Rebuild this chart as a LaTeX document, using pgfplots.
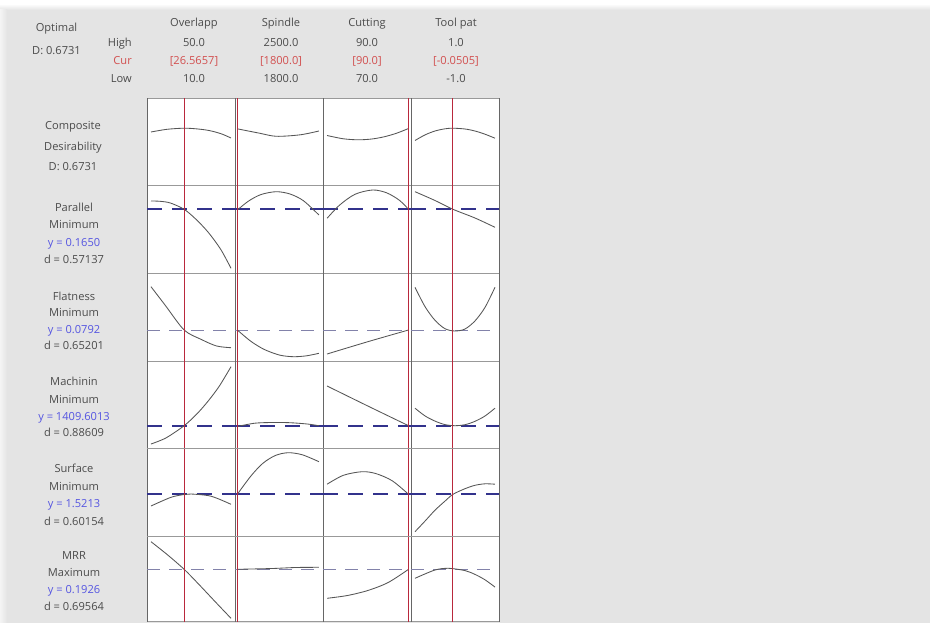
\documentclass[border=0pt]{standalone}
\usepackage{fontspec}
\setmainfont{Open Sans}
\usepackage{pgfplots}
\pgfplotsset{compat=1.18}
\definecolor{bg}{RGB}{228,228,228}
\definecolor{txt}{RGB}{75,75,75}
\definecolor{curred}{RGB}{210,80,80}
\definecolor{yblue}{RGB}{85,85,225}
\definecolor{refred}{RGB}{185,40,60}
\definecolor{dnavy}{RGB}{50,50,140}
\definecolor{thindash}{RGB}{130,130,170}
\definecolor{cgray}{RGB}{85,85,85}
\pgfplotsset{
  cell/.style={scale only axis, width=88pt, xtick=\empty, ytick=\empty, ymin=0,
    separate axis lines, x axis line style={draw=black!40}, y axis line style={draw=black!60},
    axis background/.style={fill=white}, anchor=north west},
  pos/.style 2 args={at={(#1pt,-#2pt)}},
  c1/.style={xmin=8,xmax=52},
  c2/.style={xmin=1780,xmax=2535},
  c3/.style={xmin=69,xmax=90.6},
  c4/.style={xmin=-1.1,xmax=1.1},
  r1/.style={ymax=87.5,height=87.5pt},
  r2/.style={ymax=87.5,height=87.5pt},
  r3/.style={ymax=88,height=88pt},
  r4/.style={ymax=87.5,height=87.5pt},
  r5/.style={ymax=88,height=88pt},
  r6/.style={ymax=85,height=85pt},
  crv/.style={color=cgray, line width=0.85pt, smooth, no marks},
  ref/.style={color=refred, line width=1pt, no marks},
  dsh/.style={color=dnavy, line width=1.8pt, dash pattern=on 15pt off 10pt, no marks},
  dthin/.style={color=thindash, line width=0.8pt, dash pattern=on 13pt off 9pt, no marks},
}
\tikzset{lab/.style={font=\fontsize{11.1}{12}\selectfont, text=txt, anchor=mid, inner sep=0pt}}
\begin{document}
\begin{tikzpicture}
\useasboundingbox (0,0) rectangle (930pt,-623pt);
\fill[white] (0,0) rectangle (930pt,-623pt);
\fill[bg] (0,-10pt) rectangle (930pt,-623pt);
\shade[top color=white, bottom color=bg] (0,-4pt) rectangle (930pt,-10pt);
\shade[left color=white!60!bg, right color=bg] (0,-10pt) rectangle (7pt,-623pt);

% ---------- header ----------
\node[lab] at (56.5pt,-29pt) {Optimal};
\node[lab] at (56.5pt,-52pt) {D: 0.6731};
\node[lab, anchor=mid east] at (132pt,-44pt) {High};
\node[lab, anchor=mid east, text=curred] at (132pt,-61.5pt) {Cur};
\node[lab, anchor=mid east] at (132pt,-80pt) {Low};
\node[lab] at (194pt,-24pt) {Overlapp};
\node[lab] at (281pt,-24pt) {Spindle};
\node[lab] at (367pt,-24pt) {Cutting};
\node[lab] at (456pt,-24pt) {Tool pat};
\node[lab] at (194pt,-43.5pt) {50.0};
\node[lab] at (281pt,-43.5pt) {2500.0};
\node[lab] at (367pt,-43.5pt) {90.0};
\node[lab] at (456pt,-43.5pt) {1.0};
\node[lab, text=curred] at (194pt,-61.5pt) {[26.5657]};
\node[lab, text=curred] at (281pt,-61.5pt) {[1800.0]};
\node[lab, text=curred] at (367pt,-61.5pt) {[90.0]};
\node[lab, text=curred] at (456pt,-61.5pt) {[-0.0505]};
\node[lab] at (194pt,-80pt) {10.0};
\node[lab] at (281pt,-80pt) {1800.0};
\node[lab] at (367pt,-80pt) {70.0};
\node[lab] at (456pt,-80pt) {-1.0};

% ---------- row labels ----------
\node[lab] at (73pt,-127pt) {Composite};
\node[lab] at (73pt,-147.5pt) {Desirability};
\node[lab] at (73pt,-168pt) {D: 0.6731};

\node[lab] at (74pt,-208.5pt) {Parallel};
\node[lab] at (74pt,-226pt) {Minimum};
\node[lab, text=yblue] at (74pt,-243.5pt) {y = 0.1650};
\node[lab] at (74pt,-261pt) {d = 0.57137};

\node[lab] at (74pt,-297.5pt) {Flatness};
\node[lab] at (74pt,-314pt) {Minimum};
\node[lab, text=yblue] at (74pt,-330.5pt) {y = 0.0792};
\node[lab] at (74pt,-347pt) {d = 0.65201};

\node[lab] at (74pt,-383pt) {Machinin};
\node[lab] at (74pt,-400.5pt) {Minimum};
\node[lab, text=yblue] at (74pt,-418pt) {y = 1409.6013};
\node[lab] at (74pt,-434pt) {d = 0.88609};

\node[lab] at (74pt,-470pt) {Surface};
\node[lab] at (74pt,-487.5pt) {Minimum};
\node[lab, text=yblue] at (74pt,-505pt) {y = 1.5213};
\node[lab] at (74pt,-522.5pt) {d = 0.60154};

\node[lab] at (74pt,-556.5pt) {MRR};
\node[lab] at (74pt,-573.5pt) {Maximum};
\node[lab, text=yblue] at (74pt,-591pt) {y = 0.1926};
\node[lab] at (74pt,-608pt) {d = 0.69564};

% ================= Row 1: Composite desirability =================
\begin{axis}[cell, c1, r1, pos={147}{98}]
\addplot[crv] coordinates {(10,53.5) (18,56.2) (26.57,57.3) (33,56.6) (39,55) (45,51.8) (50,47.5)};
\addplot[ref] coordinates {(26.5657,0) (26.5657,87.5)};
\end{axis}
\begin{axis}[cell, c2, r1, pos={235}{98}]
\addplot[crv] coordinates {(1800,56.7) (1990,52.3) (2135,49.2) (2340,50.7) (2500,54.5)};
\addplot[ref] coordinates {(1800,0) (1800,87.5)};
\end{axis}
\begin{axis}[cell, c3, r1, pos={323}{98}]
\addplot[crv] coordinates {(70,50) (74,46.7) (77.7,45.7) (81,46.5) (84,48.7) (87,52.2) (90,57)};
\addplot[ref] coordinates {(90,0) (90,87.5)};
\end{axis}
\begin{axis}[cell, c4, r1, pos={411}{98}]
\addplot[crv] coordinates {(-1,45) (-0.75,50.6) (-0.5,54.5) (-0.25,56.7) (-0.05,57.3) (0.25,56.5) (0.5,54.5) (0.75,51.3) (1,47.3)};
\addplot[ref] coordinates {(-0.0505,0) (-0.0505,87.5)};
\end{axis}

% ================= Row 2: Parallel =================
\begin{axis}[cell, c1, r2, pos={147}{185.5}]
\addplot[dsh] coordinates {(8,63.7) (52,63.7)};
\addplot[crv] coordinates {(10,72) (14.6,71.7) (19.7,70) (26.57,63.7) (32.6,53.5) (38.7,40.5) (44.9,23.5) (50,4.7)};
\addplot[ref] coordinates {(26.5657,0) (26.5657,87.5)};
\end{axis}
\begin{axis}[cell, c2, r2, pos={235}{185.5}]
\addplot[dsh] coordinates {(1780,63.7) (2535,63.7)};
\addplot[crv] coordinates {(1800,63) (1897,72) (2004,78.5) (2134,81.3) (2252,79) (2367,72.3) (2500,58)};
\addplot[ref] coordinates {(1800,0) (1800,87.5)};
\end{axis}
\begin{axis}[cell, c3, r2, pos={323}{185.5}]
\addplot[dsh] coordinates {(69,63.7) (90.6,63.7)};
\addplot[crv] coordinates {(70,54.7) (73.1,68) (76.9,78.8) (81.2,83) (84.6,80.2) (87.7,72.9) (90,63.7)};
\addplot[ref] coordinates {(90,0) (90,87.5)};
\end{axis}
\begin{axis}[cell, c4, r2, pos={411}{185.5}]
\addplot[dsh] coordinates {(-1.1,63.7) (1.1,63.7)};
\addplot[crv] coordinates {(-1,81.3) (-0.5,72.5) (-0.0505,63.7) (0.5,55) (1,45.7)};
\addplot[ref] coordinates {(-0.0505,0) (-0.0505,87.5)};
\end{axis}

% ================= Row 3: Flatness =================
\begin{axis}[cell, c1, r3, pos={147}{273}]
\addplot[dthin] coordinates {(8,31) (52,31)};
\addplot[crv] coordinates {(10,74.3) (17.2,55.5) (26.57,31) (35.1,21.6) (42.8,15) (50,13.3)};
\addplot[ref] coordinates {(26.5657,0) (26.5657,88)};
\end{axis}
\begin{axis}[cell, c2, r3, pos={235}{273}]
\addplot[dthin] coordinates {(1780,31) (2535,31)};
\addplot[crv] coordinates {(1800,31) (1915,19.8) (2030,11.6) (2163,5.9) (2281,4.3) (2394,5.2) (2500,7.7)};
\addplot[ref] coordinates {(1800,0) (1800,88)};
\end{axis}
\begin{axis}[cell, c3, r3, pos={323}{273}]
\addplot[dthin] coordinates {(69,31) (90.6,31)};
\addplot[crv] coordinates {(70,7) (80,19.3) (90,31)};
\addplot[ref] coordinates {(90,0) (90,88)};
\end{axis}
\begin{axis}[cell, c4, r3, pos={411}{273}]
\addplot[dthin] coordinates {(-1.1,31) (1.1,31)};
\addplot[crv] coordinates {(-1,73.7) (-0.75,54.4) (-0.5,40.7) (-0.25,32.3) (0,30) (0.25,32) (0.5,40.1) (0.75,53.6) (1,73.7)};
\addplot[ref] coordinates {(-0.0505,0) (-0.0505,88)};
\end{axis}

% ================= Row 4: Machining =================
\begin{axis}[cell, c1, r4, pos={147}{361}]
\addplot[dsh] coordinates {(8,22.8) (52,22.8)};
\addplot[crv] coordinates {(10,4.5) (17.5,10.6) (26.57,22.8) (33,34.7) (38.6,47.5) (44.2,62.5) (50,81.8)};
\addplot[ref] coordinates {(26.5657,0) (26.5657,87.5)};
\end{axis}
\begin{axis}[cell, c2, r4, pos={235}{361}]
\addplot[dsh] coordinates {(1780,22.8) (2535,22.8)};
\addplot[crv] coordinates {(1800,22) (1950,25.3) (2100,26) (2250,25.8) (2400,24.5) (2500,22.8)};
\addplot[ref] coordinates {(1800,0) (1800,87.5)};
\end{axis}
\begin{axis}[cell, c3, r4, pos={323}{361}]
\addplot[dsh] coordinates {(69,22.8) (90.6,22.8)};
\addplot[crv] coordinates {(70,62.5) (80,42.5) (90,22.8)};
\addplot[ref] coordinates {(90,0) (90,87.5)};
\end{axis}
\begin{axis}[cell, c4, r4, pos={411}{361}]
\addplot[dsh] coordinates {(-1.1,22.8) (1.1,22.8)};
\addplot[crv] coordinates {(-1,40.3) (-0.75,32.6) (-0.5,27.4) (-0.25,23.9) (0,22.8) (0.25,23.8) (0.5,27.2) (0.75,32.5) (1,40.3)};
\addplot[ref] coordinates {(-0.0505,0) (-0.0505,87.5)};
\end{axis}

% ================= Row 5: Surface =================
\begin{axis}[cell, c1, r5, pos={147}{448.5}]
\addplot[dsh] coordinates {(8,42.2) (52,42.2)};
\addplot[crv] coordinates {(10,30.5) (20,39.2) (26.57,42) (30,42.5) (40,40.3) (50,32.2)};
\addplot[ref] coordinates {(26.5657,0) (26.5657,88)};
\end{axis}
\begin{axis}[cell, c2, r5, pos={235}{448.5}]
\addplot[dsh] coordinates {(1780,42.2) (2535,42.2)};
\addplot[crv] coordinates {(1800,42.2) (1915,60.3) (2020,73.3) (2128,81.1) (2237,83.8) (2358,81.7) (2500,74.8)};
\addplot[ref] coordinates {(1800,0) (1800,88)};
\end{axis}
\begin{axis}[cell, c3, r5, pos={323}{448.5}]
\addplot[dsh] coordinates {(69,42.2) (90.6,42.2)};
\addplot[crv] coordinates {(70,52.3) (74,61.2) (78.6,64.8) (82,62.9) (86,55.7) (90,42.2)};
\addplot[ref] coordinates {(90,0) (90,88)};
\end{axis}
\begin{axis}[cell, c4, r5, pos={411}{448.5}]
\addplot[dsh] coordinates {(-1.1,42.2) (1.1,42.2)};
\addplot[crv] coordinates {(-1,4.8) (-0.75,15.4) (-0.5,26.3) (-0.25,35.4) (-0.05,42.2) (0.25,47.8) (0.5,51.2) (0.75,52.7) (1,52.3)};
\addplot[ref] coordinates {(-0.0505,0) (-0.0505,88)};
\end{axis}

% ================= Row 6: MRR =================
\begin{axis}[cell, c1, r6, pos={147}{536.5}]
\addplot[dthin] coordinates {(8,52.2) (52,52.2)};
\addplot[crv] coordinates {(10,79.8) (18,67.1) (26.57,52.2) (34,37) (42,20) (50,3.2)};
\addplot[ref] coordinates {(26.5657,0) (26.5657,85)};
\end{axis}
\begin{axis}[cell, c2, r6, pos={235}{536.5}]
\addplot[dthin] coordinates {(1780,52.2) (2535,52.2)};
\addplot[crv] coordinates {(1800,52.2) (2100,53) (2300,54) (2500,54.2)};
\addplot[ref] coordinates {(1800,0) (1800,85)};
\end{axis}
\begin{axis}[cell, c3, r6, pos={323}{536.5}]
\addplot[dthin] coordinates {(69,52.2) (90.6,52.2)};
\addplot[crv] coordinates {(70,23.2) (75,26) (80,31) (85,39) (90,52.2)};
\addplot[ref] coordinates {(90,0) (90,85)};
\end{axis}
\begin{axis}[cell, c4, r6, pos={411}{536.5}]
\addplot[dthin] coordinates {(-1.1,52.2) (1.1,52.2)};
\addplot[crv] coordinates {(-1,43.2) (-0.5,51.5) (-0.16,53.2) (0.25,50.9) (0.5,47.1) (0.75,41.7) (1,34.4)};
\addplot[ref] coordinates {(-0.0505,0) (-0.0505,85)};
\end{axis}
\end{tikzpicture}
\end{document}
